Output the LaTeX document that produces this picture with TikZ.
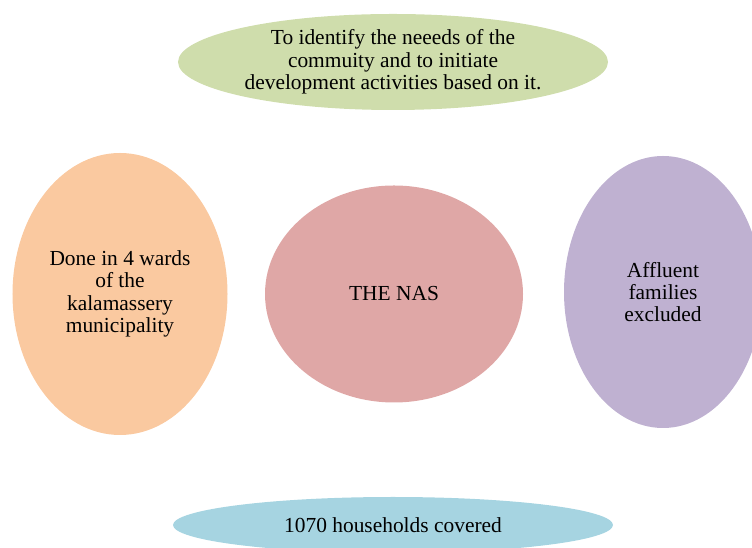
\documentclass[tikz,border=0pt]{standalone}
\usepackage{fontspec}
\setmainfont{Liberation Serif}
\usetikzlibrary{shapes.geometric}

\begin{document}
\begin{tikzpicture}[x=1bp, y=1bp]
    \tikzset{
        bubble/.style={ellipse, inner sep=0pt, align=center,
            font=\fontsize{21.5}{22.5}\selectfont}
    }
    \useasboundingbox (0,0) rectangle (752,548);
    \clip (0,0) rectangle (752,548);

    % Goal of the survey
    \node[bubble, fill={rgb,255:red,207;green,221;blue,172}, minimum width=430bp, minimum height=96bp] (goal) at (393,486)
        {To identify the neeeds of the\\commuity and to initiate\\development activities based on it.};

    % Area covered
    \node[bubble, fill={rgb,255:red,250;green,201;blue,160}, minimum width=215bp, minimum height=282bp] (wards) at (120,254)
        {Done in 4 wards\\of the\\kalamassery\\municipality};

    % Centre
    \node[bubble, fill={rgb,255:red,223;green,167;blue,166}, minimum width=258bp, minimum height=217bp] (nas) at (394,254) {THE NAS};

    % Exclusion
    \node[bubble, fill={rgb,255:red,191;green,177;blue,209}, minimum width=198bp, minimum height=272bp] (affluent) at (663,256)
        {Affluent\\families\\excluded};

    % Households
    \node[bubble, fill={rgb,255:red,166;green,212;blue,225}, minimum width=440bp, minimum height=56bp] (households) at (393,23)
        {1070 households covered};
\end{tikzpicture}
\end{document}
